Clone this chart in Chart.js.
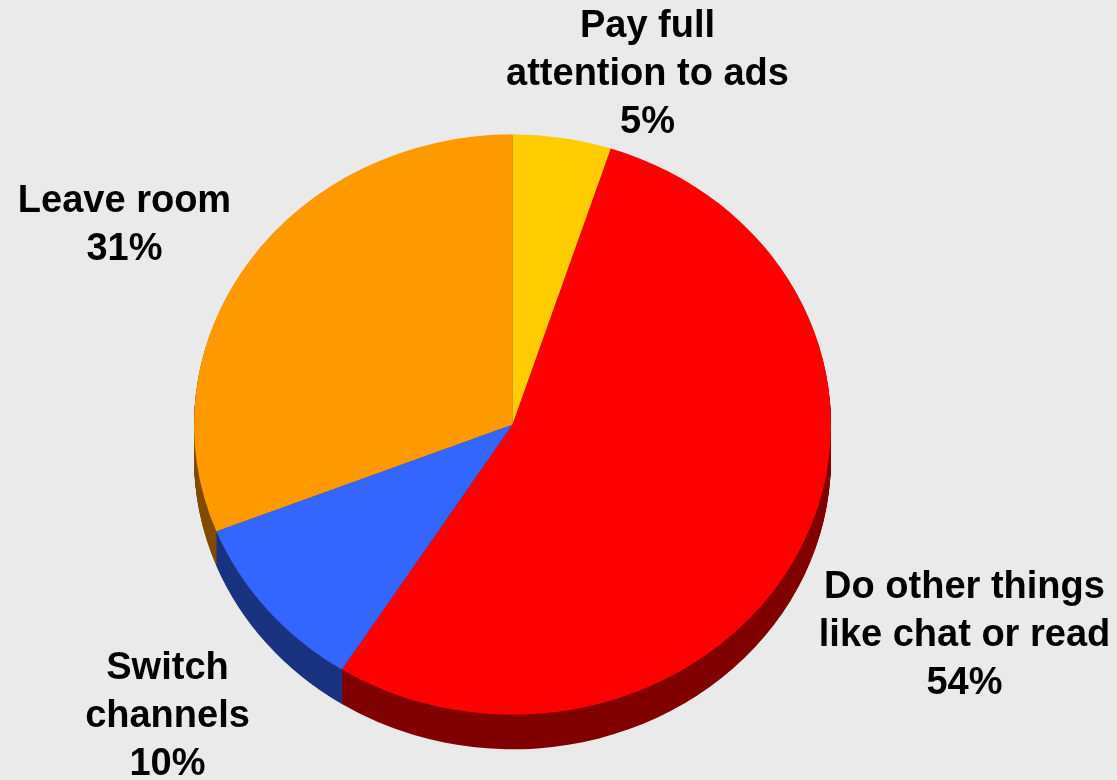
<!DOCTYPE html>
<html>
<head>
<meta charset="utf-8">
<title>TV ad breaks</title>
<script src="https://cdn.jsdelivr.net/npm/chart.js@4/dist/chart.umd.min.js"></script>
<style>
  html, body { margin: 0; padding: 0; background: #eaeaea; }
  #wrap { width: 1117px; height: 780px; }
</style>
</head>
<body>
<div id="wrap"><canvas id="pie" width="1117" height="780"></canvas></div>
<script>
// what viewers do during the commercials
const labels = [
  ["Pay full", "attention to ads"],
  ["Do other things", "like chat or read"],
  ["Switch", "channels"],
  ["Leave room"]
];
const shares = [5, 54, 10, 31];

const faceColors = ["#ffcc00", "#ff0000", "#3366ff", "#ff9900"];
const sideColors = ["#806600", "#800000", "#1a3380", "#804c00"];

// label block anchors: x offset of the centre, y offset of the first baseline (from pie centre)
const labelAnchors = [
  { dx: 135, dy: -388 },
  { dx: 452, dy: 173 },
  { dx: -345, dy: 254 },
  { dx: -388, dy: -213 }
];

const tilt = 0.911;   // vertical squash of the disc
const depth = 38;     // thickness, in unsquashed units

const pie3d = {
  id: "pie3d",
  beforeDatasetsDraw(chart) {
    const ctx = chart.ctx;
    const arcs = chart.getDatasetMeta(0).data;
    const cx = arcs[0].x, cy = arcs[0].y;
    ctx.save();
    ctx.translate(cx, cy);
    ctx.scale(1, tilt);
    ctx.translate(-cx, -cy);
    // stack darker copies downwards for the rim
    for (let d = depth; d >= 1; d--) {
      arcs.forEach((arc, i) => {
        ctx.beginPath();
        ctx.moveTo(arc.x, arc.y + d);
        ctx.arc(arc.x, arc.y + d, arc.outerRadius, arc.startAngle, arc.endAngle);
        ctx.closePath();
        ctx.fillStyle = sideColors[i];
        ctx.fill();
      });
    }
  },
  afterDatasetsDraw(chart) {
    chart.ctx.restore();
  },
  afterDraw(chart) {
    const ctx = chart.ctx;
    const arcs = chart.getDatasetMeta(0).data;
    const cx = arcs[0].x, cy = arcs[0].y;
    ctx.save();
    ctx.fillStyle = "#000";
    ctx.font = "bold 38px 'Liberation Sans', Arial, sans-serif";
    ctx.textAlign = "center";
    ctx.textBaseline = "alphabetic";
    labels.forEach((lines, i) => {
      const a = labelAnchors[i];
      const all = lines.concat([shares[i] + "%"]);
      all.forEach((t, k) => {
        ctx.fillText(t, cx + a.dx, cy + a.dy + k * 48);
      });
    });
    ctx.restore();
  }
};

new Chart(document.getElementById("pie"), {
  type: "pie",
  data: {
    labels: labels.map(l => l.join(" ")),
    datasets: [{
      data: shares,
      backgroundColor: faceColors,
      borderWidth: 0
    }]
  },
  options: {
    responsive: false,
    animation: false,
    rotation: 0,
    layout: { padding: { left: 194, right: 286, top: 106, bottom: 37 } },
    plugins: {
      legend: { display: false },
      tooltip: { enabled: false }
    }
  },
  plugins: [pie3d]
});
</script>
</body>
</html>
